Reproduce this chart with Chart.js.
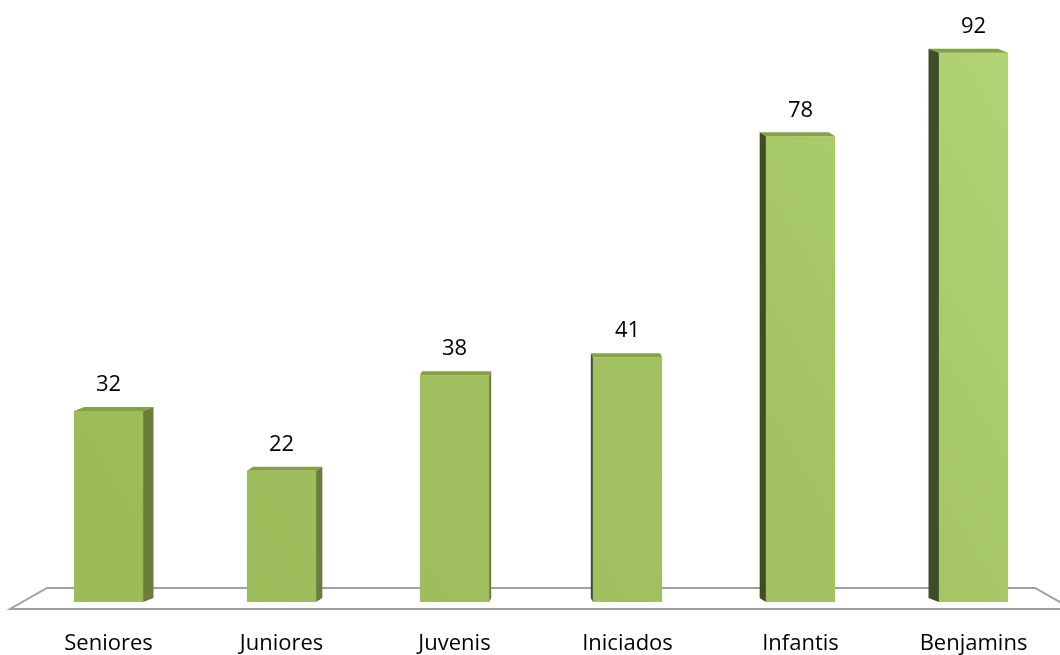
<!DOCTYPE html>
<html>
<head>
<meta charset="utf-8">
<script src="https://cdn.jsdelivr.net/npm/chart.js@4/dist/chart.umd.min.js"></script>
<style>
  html, body { margin: 0; padding: 0; background: #fff; }
  #wrap { width: 1060px; height: 655px; }
</style>
</head>
<body>
<div id="wrap"><canvas id="barChart"></canvas></div>
<script>
const categories = ['Seniores', 'Juniores', 'Juvenis', 'Iniciados', 'Infantis', 'Benjamins'];
const values = [32, 22, 38, 41, 78, 92];

// faces laterais / topo para dar o efeito 3D
const bar3d = {
  id: 'bar3d',
  beforeDatasetsDraw(chart) {
    const { ctx, chartArea } = chart;
    const y0 = chart.scales.y.getPixelForValue(0);
    const back = y0 - 14, front = y0 + 7;
    ctx.save();
    ctx.strokeStyle = '#a0a0a0';
    ctx.lineWidth = 2;
    ctx.beginPath();
    ctx.moveTo(chartArea.left - 12, front);
    ctx.lineTo(chartArea.left + 25, back);
    ctx.lineTo(chartArea.right - 25, back);
    ctx.lineTo(chartArea.right + 12, front);
    ctx.closePath();
    ctx.stroke();
    ctx.restore();
  },
  afterDatasetsDraw(chart) {
    const { ctx } = chart;
    const mid = (chart.chartArea.left + chart.chartArea.right) / 2;
    const meta = chart.getDatasetMeta(0);
    ctx.save();
    meta.data.forEach((bar, i) => {
      const left = bar.x - bar.width / 2, right = bar.x + bar.width / 2;
      const dx = (mid - bar.x) * 0.024;
      const dy = 4;
      // topo
      ctx.fillStyle = '#84a145';
      ctx.beginPath();
      ctx.moveTo(left, bar.y);
      ctx.lineTo(left + dx, bar.y - dy);
      ctx.lineTo(right + dx, bar.y - dy);
      ctx.lineTo(right, bar.y);
      ctx.closePath();
      ctx.fill();
      // lado
      const edge = dx > 0 ? right : left;
      ctx.fillStyle = dx > 0 ? '#6a7d3a' : '#3f4c24';
      ctx.beginPath();
      ctx.moveTo(edge, bar.y);
      ctx.lineTo(edge + dx, bar.y - dy);
      ctx.lineTo(edge + dx, bar.base - dy);
      ctx.lineTo(edge, bar.base);
      ctx.closePath();
      ctx.fill();
      // rótulo
      ctx.fillStyle = '#000';
      ctx.font = '22px "Open Sans"';
      ctx.textAlign = 'center';
      ctx.textBaseline = 'middle';
      ctx.fillText(String(values[i]), bar.x, bar.y - 26);
    });
    ctx.restore();
  }
};

new Chart(document.getElementById('barChart'), {
  type: 'bar',
  data: {
    labels: categories,
    datasets: [{
      data: values,
      backgroundColor: (c) => {
        const area = c.chart.chartArea;
        if (!area) return '#9bbb59';
        const g = c.chart.ctx.createLinearGradient(area.left, area.bottom, area.right, area.top);
        g.addColorStop(0, '#9bbb59');
        g.addColorStop(0.6, '#a2c262');
        g.addColorStop(1, '#b5d676');
        return g;
      },
      barPercentage: 0.4,
      categoryPercentage: 1.0,
    }],
  },
  options: {
    responsive: true,
    maintainAspectRatio: false,
    animation: false,
    layout: { padding: { left: 22, right: 0, top: 5, bottom: 0 } },
    plugins: {
      legend: { display: false },
      tooltip: { enabled: false },
    },
    scales: {
      x: {
        grid: { display: false },
        border: { display: false },
        ticks: { color: '#000', font: { family: 'Open Sans', size: 22 }, padding: 21 },
        afterFit: (scale) => { scale.height = 53; },
      },
      y: {
        display: false,
        min: 0,
        max: 100,
      },
    },
  },
  plugins: [bar3d],
});
</script>
</body>
</html>
